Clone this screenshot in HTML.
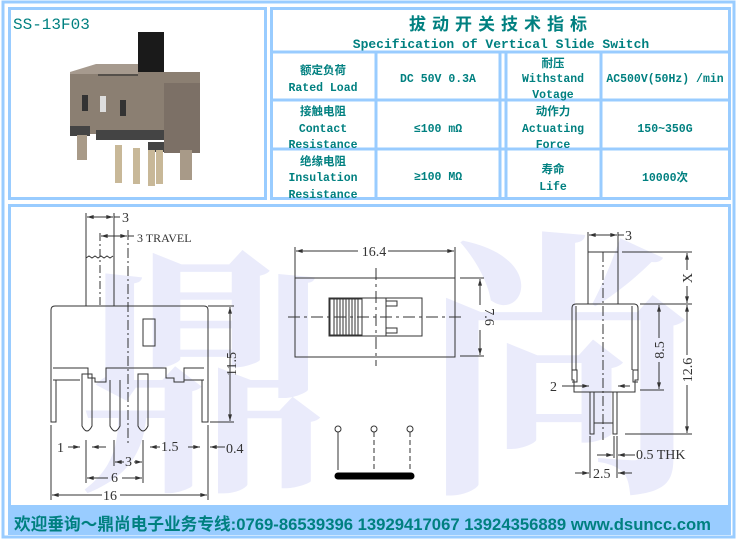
<!DOCTYPE html>
<html><head><meta charset="utf-8"><style>
body{margin:0;width:739px;height:539px;overflow:hidden;background:#fff;position:relative;font-family:"Liberation Sans","Noto Sans CJK SC",sans-serif}
svg{position:absolute;left:0;top:0}
</style></head><body>
<svg width="739" height="539" viewBox="0 0 739 539" xmlns="http://www.w3.org/2000/svg">
<defs><marker id="a" viewBox="0 0 10 6" refX="10" refY="3" markerWidth="7" markerHeight="4" orient="auto-start-reverse" markerUnits="userSpaceOnUse"><path d="M0,0 L10,3 L0,6 Z" fill="#333"/></marker></defs>
<!-- frame -->
<rect x="3" y="2" width="731" height="535" fill="none" stroke="#99ccff" stroke-width="3"/>
<rect x="9.5" y="8.5" width="256" height="190" fill="none" stroke="#99ccff" stroke-width="3"/>
<rect x="9.5" y="205.5" width="720" height="301" fill="none" stroke="#99ccff" stroke-width="3"/>
<rect x="8" y="507" width="723" height="28" fill="#99ccff"/>
<!-- table -->
<g stroke="#99ccff" stroke-width="3" fill="none">
<rect x="271.5" y="8.5" width="458" height="190"/>
<line x1="271" y1="52" x2="730" y2="52"/>
<line x1="271" y1="100" x2="730" y2="100"/>
<line x1="271" y1="149" x2="730" y2="149"/>
<line x1="376" y1="52" x2="376" y2="198"/>
<line x1="500" y1="52" x2="500" y2="198"/>
<line x1="506" y1="52" x2="506" y2="198"/>
<line x1="601" y1="52" x2="601" y2="198"/>
</g>
<!-- watermark -->
<g fill="#eaebfb" font-family="'Noto Serif CJK SC','Noto Sans CJK SC',serif" font-weight="bold">
<text x="75" y="470" font-size="260">鼎</text>
<text x="420" y="470" font-size="280">尚</text>
</g>
<!-- table text -->
<g fill="#008080" font-weight="bold" font-family="'Liberation Mono','Noto Sans CJK SC',monospace" text-anchor="middle">
<text x="501" y="30" font-size="17" letter-spacing="6">拔动开关技术指标</text>
<text x="501" y="48" font-size="13">Specification of Vertical Slide Switch</text>
<g font-size="11.5">
<text x="323" y="74">额定负荷</text><text x="323" y="91">Rated Load</text>
<text x="323" y="115">接触电阻</text><text x="323" y="132">Contact</text><text x="323" y="148">Resistance</text>
<text x="323" y="165">绝缘电阻</text><text x="323" y="181">Insulation</text><text x="323" y="198">Resistance</text>
<text x="438" y="82">DC 50V 0.3A</text>
<text x="438" y="132">≤100 mΩ</text>
<text x="438" y="180">≥100 MΩ</text>
<text x="553" y="67">耐压</text><text x="553" y="82">Withstand</text><text x="553" y="98">Votage</text>
<text x="553" y="115">动作力</text><text x="553" y="132">Actuating</text><text x="553" y="148">Force</text>
<text x="553" y="173">寿命</text><text x="553" y="190">Life</text>
<text x="665" y="82">AC500V(50Hz) /min</text>
<text x="665" y="132">150~350G</text>
<text x="665" y="181">10000次</text>
</g></g>
<text x="13" y="29" fill="#008080" font-size="16" font-family="'Liberation Mono',monospace">SS-13F03</text>
<!-- photo -->
<g>
<rect x="138" y="32" width="26" height="58" fill="#1a1a1a"/>
<rect x="70" y="72" width="130" height="62" fill="#8b7f72"/>
<rect x="98" y="66" width="40" height="10" fill="#55504a"/>
<polygon points="70,72 96,64 138,64 138,74 70,74" fill="#a69a8e"/>
<rect x="164" y="83" width="36" height="70" fill="#7c7066"/>
<rect x="82" y="95" width="6" height="16" fill="#333"/><rect x="100" y="96" width="6" height="16" fill="#ddd"/><rect x="120" y="100" width="6" height="16" fill="#333"/>
<rect x="70" y="126" width="20" height="10" fill="#444"/><rect x="96" y="130" width="68" height="10" fill="#444"/><rect x="148" y="142" width="16" height="10" fill="#444"/>
<rect x="77" y="135" width="10" height="25" fill="#a89a88"/><rect x="115" y="145" width="7" height="38" fill="#c8b898"/><rect x="133" y="148" width="7" height="36" fill="#c8b898"/><rect x="148" y="150" width="7" height="36" fill="#c8b898"/><rect x="156" y="150" width="7" height="34" fill="#c8b898"/><rect x="180" y="150" width="12" height="30" fill="#a89a88"/>
</g>
<!-- drawings -->
<g stroke="#333" stroke-width="1" fill="none" font-family="'Liberation Serif',serif">
<!-- left view -->
<line x1="86" y1="213" x2="86" y2="258"/><line x1="114" y1="213" x2="114" y2="258"/><line x1="87" y1="217" x2="113" y2="217" marker-start="url(#a)" marker-end="url(#a)"/><line x1="114" y1="217" x2="120" y2="217"/>
<line x1="100" y1="233" x2="100" y2="306" stroke-dasharray="8,3,2,3"/><line x1="101" y1="236" x2="127" y2="236" marker-start="url(#a)" marker-end="url(#a)"/><line x1="128" y1="236" x2="134" y2="236"/>
<path d="M86,258 L86,306 M114,258 L114,306 M86,258 l3,-2 l3,2 l3,-2 l3,2 l3,-2 l3,2 l3,-2 l3,2 l3,-2"/>
<line x1="128" y1="230" x2="128" y2="445" stroke-dasharray="10,3,2,3"/>
<path d="M51,310 Q51,306 55,306 L204,306 Q208,306 208,310 L208,422 L202,422 L202,380"/>
<path d="M51,310 L51,422 L56,422 L56,380"/>
<rect x="143" y="319" width="12" height="27"/>
<path d="M53,368 L88,368 L88,378 L95,378 L95,382 L106,382 L106,368 L166,368 L166,378 L174,378 L174,382 L184,382 L184,368 L204,368 M53,380 L80,380 M184,380 L204,380"/>
<path d="M82,380 v-6 h10 v6 M82,380 v46 q5,10 10,0 v-46"/>
<path d="M110,380 v46 q5,10 10,0 v-46"/>
<path d="M138,380 v-6 h10 v6 M138,380 v46 q5,10 10,0 v-46"/>
<line x1="51" y1="425" x2="51" y2="500"/><line x1="208" y1="425" x2="208" y2="500"/>
<line x1="230" y1="307" x2="230" y2="421" marker-start="url(#a)" marker-end="url(#a)"/><line x1="208" y1="306" x2="234" y2="306"/><line x1="210" y1="422" x2="234" y2="422"/>
<line x1="86" y1="440" x2="86" y2="483"/><line x1="143" y1="440" x2="143" y2="483"/><line x1="114" y1="440" x2="114" y2="466"/>
<line x1="68" y1="447" x2="80" y2="447" marker-end="url(#a)"/><line x1="106" y1="447" x2="92" y2="447" marker-end="url(#a)"/><line x1="160" y1="447" x2="150" y2="447" marker-end="url(#a)"/><line x1="188" y1="447" x2="200" y2="447" marker-end="url(#a)"/><line x1="225" y1="447" x2="210" y2="447" marker-end="url(#a)"/>
<line x1="115" y1="462" x2="124" y2="462" marker-start="url(#a)"/><line x1="134" y1="462" x2="142" y2="462" marker-end="url(#a)"/>
<line x1="87" y1="478" x2="108" y2="478" marker-start="url(#a)"/><line x1="122" y1="478" x2="142" y2="478" marker-end="url(#a)"/>
<line x1="52" y1="495" x2="102" y2="495" marker-start="url(#a)"/><line x1="120" y1="495" x2="207" y2="495" marker-end="url(#a)"/>
<!-- middle -->
<line x1="295" y1="247" x2="295" y2="278"/><line x1="455" y1="247" x2="455" y2="278"/>
<line x1="296" y1="251" x2="358" y2="251" marker-start="url(#a)"/><line x1="388" y1="251" x2="454" y2="251" marker-end="url(#a)"/>
<rect x="295" y="278" width="160" height="79"/>
<rect x="329" y="298" width="93" height="38"/><rect x="330" y="299" width="32" height="36"/>
<path d="M334,299 v36 M337,299 v36 M340,299 v36 M343,299 v36 M346,299 v36 M349,299 v36 M352,299 v36 M355,299 v36 M358,299 v36"/>
<line x1="386" y1="298" x2="386" y2="336"/><rect x="386" y="301" width="11" height="5"/><rect x="386" y="328" width="11" height="5"/>
<line x1="288" y1="317" x2="465" y2="317" stroke-dasharray="12,4,3,4"/><line x1="376" y1="268" x2="376" y2="366" stroke-dasharray="12,4,3,4"/>
<line x1="460" y1="278" x2="484" y2="278"/><line x1="460" y1="356" x2="484" y2="356"/><line x1="480" y1="305" x2="480" y2="279" marker-end="url(#a)"/><line x1="480" y1="330" x2="480" y2="355" marker-end="url(#a)"/>
<circle cx="338" cy="429" r="3"/><circle cx="374" cy="429" r="3"/><circle cx="410" cy="429" r="3"/>
<line x1="338" y1="432" x2="338" y2="470"/><line x1="374" y1="432" x2="374" y2="470" stroke-dasharray="5,3"/><line x1="410" y1="432" x2="410" y2="470" stroke-dasharray="5,3"/>
<line x1="338" y1="476" x2="411" y2="476" stroke="#000" stroke-width="7" stroke-linecap="round"/>
<!-- right -->
<line x1="588" y1="232" x2="588" y2="252"/><line x1="618" y1="232" x2="618" y2="252"/><line x1="589" y1="235" x2="617" y2="235" marker-start="url(#a)" marker-end="url(#a)"/><line x1="618" y1="235" x2="624" y2="235"/>
<rect x="588" y="252" width="30" height="52"/><line x1="603" y1="252" x2="603" y2="440" stroke-dasharray="10,3,2,3"/>
<path d="M572,308 Q572,304 576,304 L634,304 Q638,304 638,308 L638,380 L635,380 L635,392 L574,392 L574,380 L572,380 Z"/>
<path d="M576,306 v64 M632,306 v64 M572,370 h5 v12 h-5 M638,370 h-5 v12 h5"/>
<path d="M590,392 v42 h4 v-42 M613,392 v42 h4 v-42 M594,423 h19"/>
<line x1="622" y1="252" x2="692" y2="252"/><line x1="640" y1="304" x2="692" y2="304"/><line x1="640" y1="390" x2="664" y2="390"/><line x1="625" y1="434" x2="692" y2="434"/>
<line x1="687" y1="270" x2="687" y2="253" marker-end="url(#a)"/><line x1="687" y1="286" x2="687" y2="303" marker-end="url(#a)"/>
<line x1="659" y1="338" x2="659" y2="305" marker-end="url(#a)"/><line x1="659" y1="362" x2="659" y2="389" marker-end="url(#a)"/>
<line x1="687" y1="355" x2="687" y2="305" marker-end="url(#a)"/><line x1="687" y1="385" x2="687" y2="433" marker-end="url(#a)"/>
<line x1="562" y1="386" x2="589" y2="386" marker-end="url(#a)"/><line x1="630" y1="386" x2="618" y2="386" marker-end="url(#a)"/>
<line x1="590" y1="436" x2="590" y2="478"/><line x1="617" y1="436" x2="617" y2="478"/><line x1="614" y1="436" x2="614" y2="458"/>
<line x1="597" y1="455" x2="613" y2="455" marker-end="url(#a)"/><line x1="635" y1="455" x2="618" y2="455" marker-end="url(#a)"/>
<line x1="575" y1="473" x2="589" y2="473" marker-end="url(#a)"/><line x1="632" y1="473" x2="618" y2="473" marker-end="url(#a)"/>
</g>
<g fill="#333" font-family="'Liberation Serif',serif" font-size="14">
<text x="122" y="222">3</text><text x="137" y="242" font-size="12">3 TRAVEL</text>
<text x="57" y="452">1</text><text x="161" y="451">1.5</text><text x="226" y="453">0.4</text>
<text x="125" y="466">3</text><text x="111" y="482">6</text><text x="103" y="500">16</text>
<text transform="translate(236,364) rotate(-90)" text-anchor="middle">11.5</text>
<text x="374" y="256" text-anchor="middle">16.4</text>
<text transform="translate(485,317) rotate(90)" text-anchor="middle">7.6</text>
<text x="625" y="240">3</text>
<text transform="translate(692,278) rotate(-90)" text-anchor="middle">X</text>
<text transform="translate(664,350) rotate(-90)" text-anchor="middle">8.5</text>
<text transform="translate(692,370) rotate(-90)" text-anchor="middle">12.6</text>
<text x="550" y="391">2</text><text x="636" y="459">0.5 THK</text><text x="593" y="478">2.5</text>
</g>
<text x="14" y="530" fill="#008080" font-size="17" font-weight="bold" font-family="'Liberation Sans','Noto Sans CJK SC',sans-serif" textLength="697" lengthAdjust="spacingAndGlyphs">欢迎垂询～鼎尚电子业务专线:0769-86539396  13929417067 13924356889  www.dsuncc.com</text>
</svg>
</body></html>
